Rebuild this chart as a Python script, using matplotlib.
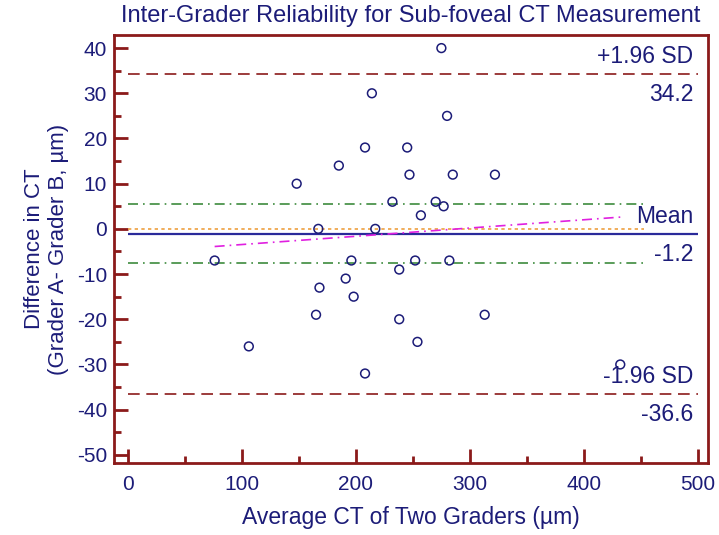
import numpy as np
import matplotlib
matplotlib.use("Agg")
import matplotlib.pyplot as plt
from matplotlib.ticker import MultipleLocator

plt.rcParams['font.family'] = ['Liberation Sans', 'DejaVu Sans']
plt.rcParams['axes.unicode_minus'] = False

# data (average CT, difference A-B)
avg_ct = [76, 106, 148, 165, 167, 168, 185, 191, 196, 198, 208, 208, 214, 217, 232, 238,
          238, 245, 247, 252, 254, 257, 270, 275, 277, 280, 282, 285, 313, 322, 432]
diff_ct = [-7, -26, 10, -19, 0, -13, 14, -11, -7, -15, 18, -32, 30, 0, 6, -9,
           -20, 18, 12, -7, -25, 3, 6, 40, 5, 25, -7, 12, -19, 12, -30]

mean_diff = -1.2
upper_loa = 34.2
lower_loa = -36.6
ci_mean = [5.4, -7.6]
reg_x = [76, 432]
reg_y = [-3.9, 2.6]

navy = '#1c1c78'
dred = '#8b1a1a'

fig = plt.figure(figsize=(7.19, 5.35), dpi=100)
ax = fig.add_axes([0.1586, 0.1346, 0.8261, 0.8000])

ax.hlines([upper_loa, lower_loa], 0, 500, colors=dred, linestyles=(0, (7, 4)), lw=1.2)
ax.hlines(ci_mean, 0, 453, colors='#3d8b3d', linestyles=(0, (6, 3, 1, 3)), lw=1.2)
ax.hlines(0, 0, 453, colors='#eea040', linestyles=(0, (2, 2)), lw=1.2)
ax.hlines(mean_diff, 0, 500, colors='#2a2a9a', lw=1.6)
ax.plot(reg_x, reg_y, color='#e020e0', ls=(0, (6, 3, 1, 3)), lw=1.2)

ax.scatter(avg_ct, diff_ct, s=40, facecolors='none', edgecolors=navy, linewidths=1.1, zorder=3)

tkw = dict(ha='right', color=navy, fontsize=16.5)
ax.text(496, upper_loa + 1.5, '+1.96 SD', va='bottom', **tkw)
ax.text(496, upper_loa - 2.0, '%.1f' % upper_loa, va='top', **tkw)
ax.text(496, mean_diff + 1.5, 'Mean', va='bottom', **tkw)
ax.text(496, mean_diff - 2.0, '%.1f' % mean_diff, va='top', **tkw)
ax.text(496, lower_loa + 1.5, '-1.96 SD', va='bottom', **tkw)
ax.text(496, lower_loa - 2.0, '%.1f' % lower_loa, va='top', **tkw)

ax.set_xlim(-12.3, 509)
ax.set_ylim(-51.8, 42.9)
ax.xaxis.set_major_locator(MultipleLocator(100))
ax.xaxis.set_minor_locator(MultipleLocator(50))
ax.yaxis.set_major_locator(MultipleLocator(10))
ax.yaxis.set_minor_locator(MultipleLocator(5))
ax.tick_params(which='both', direction='in', color=dred, width=2, labelcolor=navy,
               labelsize=15, top=False, right=False)
ax.tick_params(which='major', length=10)
ax.tick_params(which='minor', length=5)
ax.tick_params(axis='x', pad=9)
ax.tick_params(axis='y', pad=5)
for s in ax.spines.values():
    s.set_color(dred)
    s.set_linewidth(2)

ax.set_title('Inter-Grader Reliability for Sub-foveal CT Measurement', color=navy,
             fontsize=17, pad=9)
ax.set_xlabel('Average CT of Two Graders (µm)', color=navy, fontsize=16.5, labelpad=8)
ax.set_ylabel('Difference in CT\n(Grader A- Grader B, µm)', color=navy, fontsize=16,
              labelpad=6, linespacing=1.15)

fig.savefig('out.png', dpi=100)
